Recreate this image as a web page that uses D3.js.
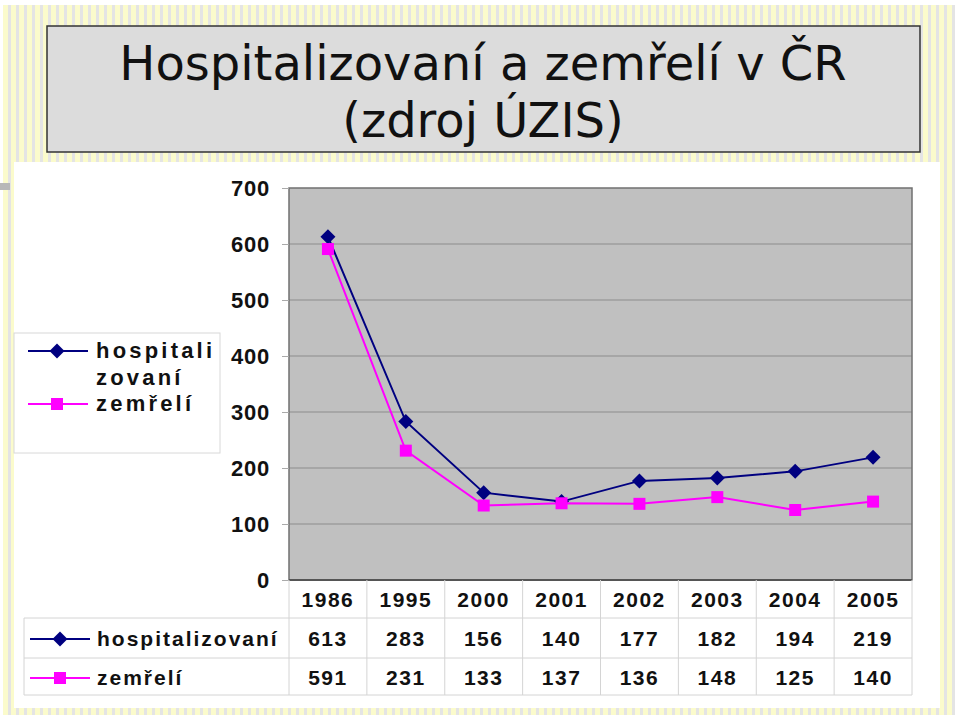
<!DOCTYPE html>
<html><head><meta charset="utf-8">
<script src="https://cdn.jsdelivr.net/npm/d3@7"></script>
<style>html,body{margin:0;padding:0;background:#fff;}</style>
</head><body>
<svg id="c" width="960" height="722"></svg>
<script>
const categories = ["1986","1995","2000","2001","2002","2003","2004","2005"];
const hospitalizovani = [613,283,156,140,177,182,194,219];
const zemreli = [591,231,133,137,136,148,125,140];
const yTicks = [0,100,200,300,400,500,600,700];
const seriesNames = ["hospitalizovaní","zemřelí"];
const titleLines = ["Hospitalizovaní a zemřelí v ČR","(zdroj ÚZIS)"];

const svg = d3.select("#c");
const defs = svg.append("defs");
const pat = defs.append("pattern").attr("id","stripes").attr("patternUnits","userSpaceOnUse")
  .attr("width",8).attr("height",8);
pat.append("rect").attr("width",8).attr("height",8).attr("fill","#fbfbcc");
pat.append("rect").attr("width",3).attr("height",8).attr("fill","#e4e4e4");

// background stripes
svg.append("rect").attr("x",3).attr("y",5).attr("width",952).attr("height",710).attr("fill","url(#stripes)");
svg.append("rect").attr("x",0).attr("y",183).attr("width",10).attr("height",7).attr("fill","#b8b8b8");

// title box
svg.append("rect").attr("x",47).attr("y",26).attr("width",873).attr("height",126)
  .attr("fill","#dcdcdc").attr("stroke","#333").attr("stroke-width",1.5);
svg.selectAll("text.title").data(titleLines).join("text").attr("class","title")
  .attr("x",483).attr("y",(d,i)=>80+i*57).attr("text-anchor","middle")
  .attr("font-family","DejaVu Sans, Verdana, sans-serif").attr("font-size",48).attr("fill","#111")
  .text(d=>d);

// chart white area
svg.append("rect").attr("x",14).attr("y",162).attr("width",926).attr("height",546).attr("fill","#fff");

const x = d3.scaleBand().domain(categories).range([289,912]);
const y = d3.scaleLinear().domain([0,700]).range([580,188]);

// plot area
svg.append("rect").attr("x",289).attr("y",188).attr("width",623).attr("height",392)
  .attr("fill","#c0c0c0");
svg.append("g").selectAll("line").data(yTicks.filter(d=>d>0 && d<700)).join("line")
  .attr("x1",289).attr("x2",912).attr("y1",d=>y(d)).attr("y2",d=>y(d))
  .attr("stroke","#8c8c8c").attr("stroke-width",1);
svg.append("rect").attr("x",289).attr("y",188).attr("width",623).attr("height",392)
  .attr("fill","none").attr("stroke","#707070").attr("stroke-width",1.5);
svg.append("line").attr("x1",289).attr("x2",912).attr("y1",580).attr("y2",580)
  .attr("stroke","#555").attr("stroke-width",2);

// y axis
const yAxis = d3.axisLeft(y).tickValues(yTicks).tickSize(7).tickPadding(12);
const gy = svg.append("g").attr("transform","translate(289,0)").call(yAxis);
gy.select(".domain").remove();
gy.selectAll(".tick line").attr("stroke","#aaa");
gy.selectAll(".tick text").attr("font-family","Liberation Sans, Arial, sans-serif")
  .attr("font-weight","bold").attr("font-size",22).attr("letter-spacing",0.8).attr("fill","#111").attr("dy","0.35em");

// table grid
const grid = svg.append("g").attr("stroke","#d4d4d4").attr("stroke-width",1);
const bounds = categories.map(c=>x(c)).concat([912]);
grid.selectAll("line.v").data(bounds).join("line").attr("class","v")
  .attr("x1",d=>d).attr("x2",d=>d).attr("y1",580).attr("y2",695);
grid.append("line").attr("x1",24).attr("x2",24).attr("y1",618).attr("y2",695);
grid.selectAll("line.h").data([618,658,695]).join("line").attr("class","h")
  .attr("x1",24).attr("x2",912).attr("y1",d=>d).attr("y2",d=>d);

const tf = "Liberation Sans, Arial, sans-serif";
svg.append("g").selectAll("text").data(categories).join("text")
  .attr("x",d=>x(d)+x.bandwidth()/2).attr("y",607).attr("text-anchor","middle")
  .attr("font-family",tf).attr("font-weight","bold").attr("font-size",21).attr("letter-spacing",1.5)
  .attr("fill","#111").text(d=>d);

const rows = [{name:seriesNames[0],vals:hospitalizovani,color:"#000080",shape:"diamond",ry:638},
              {name:seriesNames[1],vals:zemreli,color:"#ff00ff",shape:"square",ry:677}];

function marker(g,shape,color,cx,cy){
  if(shape==="diamond"){
    const r=7.5;
    g.append("path").attr("d",`M${cx},${cy-r}L${cx+r},${cy}L${cx},${cy+r}L${cx-r},${cy}Z`).attr("fill",color);
  } else {
    const s=12;
    g.append("rect").attr("x",cx-s/2).attr("y",cy-s/2).attr("width",s).attr("height",s).attr("fill",color);
  }
}

rows.forEach(r=>{
  svg.append("g").selectAll("text").data(r.vals).join("text")
    .attr("x",(d,i)=>x(categories[i])+x.bandwidth()/2).attr("y",r.ry+8).attr("text-anchor","middle")
    .attr("font-family",tf).attr("font-weight","bold").attr("font-size",21).attr("letter-spacing",1.5)
    .attr("fill","#111").text(d=>d);
  const lg = svg.append("g");
  lg.append("line").attr("x1",30).attr("x2",90).attr("y1",r.ry+1).attr("y2",r.ry+1)
    .attr("stroke",r.color).attr("stroke-width",2);
  marker(lg,r.shape,r.color,60,r.ry+1);
  lg.append("text").attr("x",97).attr("y",r.ry+8).attr("font-family",tf).attr("font-weight","bold")
    .attr("font-size",21).attr("letter-spacing",2).attr("fill","#111").text(r.name);
});

// series lines
rows.forEach(r=>{
  const line = d3.line().x((d,i)=>x(categories[i])+x.bandwidth()/2).y(d=>y(d));
  svg.append("path").datum(r.vals).attr("d",line).attr("fill","none")
    .attr("stroke",r.color).attr("stroke-width",2);
  const g = svg.append("g");
  r.vals.forEach((v,i)=>marker(g,r.shape,r.color,x(categories[i])+x.bandwidth()/2,y(v)));
});

// legend
svg.append("rect").attr("x",14).attr("y",333).attr("width",206).attr("height",120)
  .attr("fill","#fff").attr("stroke","#d8d8d8");
const lgd = svg.append("g");
lgd.append("line").attr("x1",28).attr("x2",88).attr("y1",351).attr("y2",351).attr("stroke","#000080").attr("stroke-width",2);
marker(lgd,"diamond","#000080",57,351);
lgd.append("line").attr("x1",28).attr("x2",88).attr("y1",404).attr("y2",404).attr("stroke","#ff00ff").attr("stroke-width",2);
marker(lgd,"square","#ff00ff",57,404);
const legLines = [["hospitali",358],["zovaní",385],["zemřelí",411]];
lgd.selectAll("text").data(legLines).join("text").attr("x",96).attr("y",d=>d[1])
  .attr("font-family",tf).attr("font-weight","bold").attr("font-size",22).attr("letter-spacing",3.2)
  .attr("fill","#111").text(d=>d[0]);
</script>
</body></html>
